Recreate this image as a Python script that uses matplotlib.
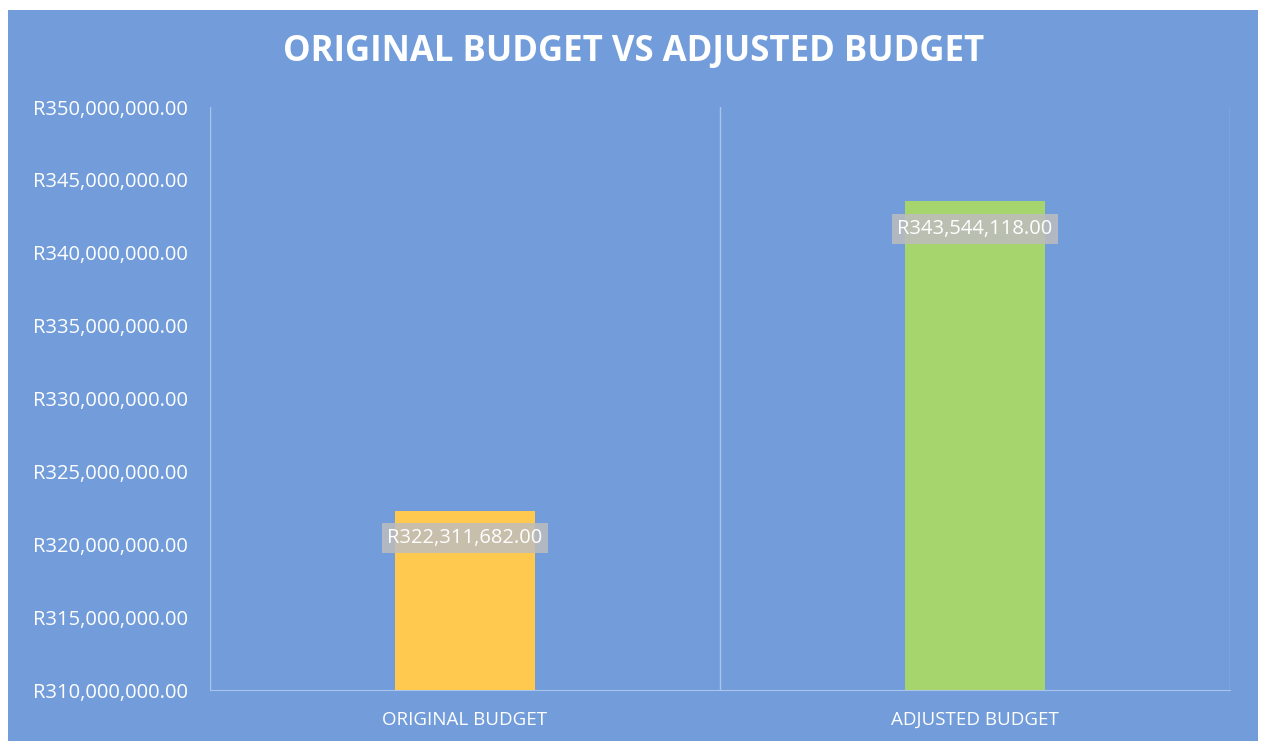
import matplotlib.pyplot as plt
import matplotlib.ticker as mticker
from matplotlib.patches import Rectangle

categories = ["ORIGINAL BUDGET", "ADJUSTED BUDGET"]
budgets = [322311682.00, 343544118.00]
bar_colors = ["#FFC94F", "#A6D56E"]

plt.rcParams["font.family"] = ["Open Sans", "DejaVu Sans"]

fig = plt.figure(figsize=(12.66, 7.41), dpi=100)
fig.patch.set_facecolor("white")
fig.patches.append(Rectangle((8 / 1266, 0), 1250 / 1266, 731 / 741, transform=fig.transFigure,
                             facecolor="#729DDA", edgecolor="none", zorder=-1))

ax = fig.add_axes([210 / 1266, 51 / 741, 1020 / 1266, 583 / 741])
ax.set_facecolor("none")

x = list(range(len(categories)))
bars = ax.bar(x, budgets, width=0.275, color=bar_colors, zorder=3)

for bar, value in zip(bars, budgets):
    ax.annotate(f"R{value:,.2f}", (bar.get_x() + bar.get_width() / 2, value),
                xytext=(0, -20), textcoords="offset points", ha="center", va="center",
                fontsize=14.5, color="white", zorder=5,
                bbox=dict(boxstyle="square,pad=0.25", facecolor="#BDBDBD", edgecolor="none", alpha=0.85))

ax.set_xlim(-0.5, 1.5)
ax.set_ylim(310000000, 350000000)
ax.yaxis.set_major_locator(mticker.MultipleLocator(5000000))
ax.yaxis.set_major_formatter(mticker.FuncFormatter(lambda v, _: f"R{v:,.2f}"))
ax.set_xticks(x)
ax.set_xticklabels(categories, fontsize=13.5, color="white")
ax.tick_params(axis="y", labelsize=14.5, colors="white", length=0, pad=16)
ax.tick_params(axis="x", length=0, pad=15)

for xv in [-0.5, 0.5, 1.5]:
    ax.axvline(xv, color="#A9C3EA", linewidth=1, zorder=1)
for side in ["top", "right", "left"]:
    ax.spines[side].set_visible(False)
ax.spines["bottom"].set_color("#A9C3EA")

fig.text(634 / 1266, 1 - 52 / 741, "ORIGINAL BUDGET VS ADJUSTED BUDGET", ha="center", va="center",
         fontsize=25, fontweight="bold", color="white")

fig.savefig("out.png", dpi=100, facecolor=fig.get_facecolor())
